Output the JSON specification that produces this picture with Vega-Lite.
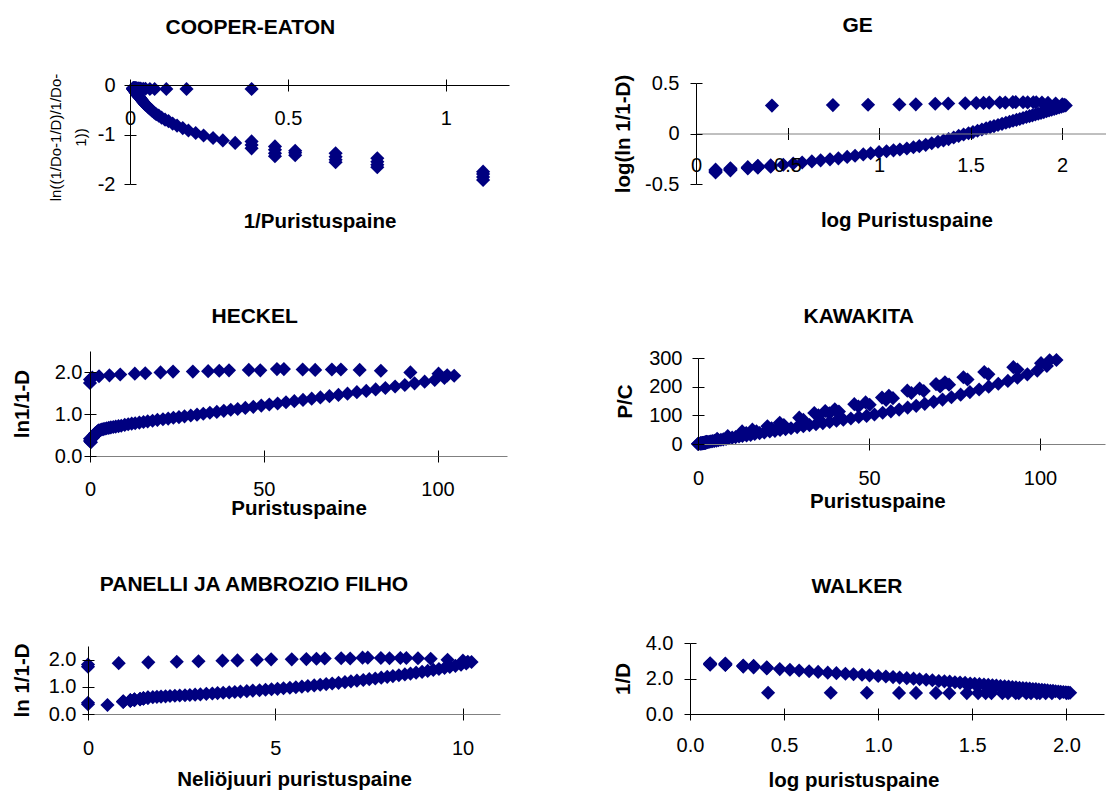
{
"$schema": "https://vega.github.io/schema/vega-lite/v6.json",
"background": "white",
"padding": 0,
"autosize": {"type": "pad"},
"config": {
 "view": {"stroke": null},
 "font": "Liberation Sans",
 "axis": {"grid": false, "labelFont": "Liberation Sans", "titleFont": "Liberation Sans", "labelFontSize": 20, "titleFontSize": 20.5, "titleFontWeight": "bold", "labelColor": "black", "titleColor": "black", "domainColor": "black", "tickColor": "black", "domainWidth": 1, "tickWidth": 1, "labelFlush": false, "labelOverlap": false, "labelBound": false},
 "title": {"font": "Liberation Sans", "fontSize": 21, "fontWeight": "bold", "color": "black"}
},
"datasets": {
 "cooper": [
  {"x":1.118,"y":-1.75},{"x":1.118,"y":-1.80},{"x":1.118,"y":-1.86},{"x":1.118,"y":-1.92},
  {"x":0.783,"y":-1.48},{"x":0.783,"y":-1.55},{"x":0.783,"y":-1.61},{"x":0.783,"y":-1.66},
  {"x":0.651,"y":-1.38},{"x":0.651,"y":-1.45},{"x":0.651,"y":-1.51},{"x":0.651,"y":-1.56},
  {"x":0.523,"y":-1.33},{"x":0.523,"y":-1.37},{"x":0.523,"y":-1.42},
  {"x":0.459,"y":-1.24},{"x":0.459,"y":-1.31},{"x":0.459,"y":-1.38},{"x":0.459,"y":-1.44},
  {"x":0.385,"y":-1.14},{"x":0.385,"y":-1.21},{"x":0.385,"y":-1.28},
  {"x":0.333,"y":-1.17},{"x":0.294,"y":-1.12},{"x":0.263,"y":-1.07},{"x":0.233,"y":-1.02},{"x":0.208,"y":-0.97},{"x":0.185,"y":-0.92},{"x":0.167,"y":-0.87},{"x":0.149,"y":-0.82},{"x":0.135,"y":-0.78},{"x":0.122,"y":-0.73},{"x":0.111,"y":-0.70},{"x":0.100,"y":-0.66},{"x":0.091,"y":-0.62},{"x":0.083,"y":-0.59},{"x":0.077,"y":-0.56},{"x":0.070,"y":-0.52},{"x":0.065,"y":-0.49},{"x":0.060,"y":-0.46},{"x":0.056,"y":-0.44},{"x":0.052,"y":-0.41},{"x":0.048,"y":-0.39},{"x":0.044,"y":-0.36},{"x":0.042,"y":-0.345},{"x":0.039,"y":-0.32},{"x":0.037,"y":-0.30},{"x":0.034,"y":-0.28},{"x":0.032,"y":-0.265},{"x":0.031,"y":-0.255},{"x":0.029,"y":-0.24},{"x":0.027,"y":-0.225},{"x":0.026,"y":-0.215},{"x":0.025,"y":-0.205},{"x":0.0235,"y":-0.195},{"x":0.0224,"y":-0.185},{"x":0.0213,"y":-0.175},{"x":0.0203,"y":-0.167},{"x":0.0194,"y":-0.158},{"x":0.0185,"y":-0.15},{"x":0.0177,"y":-0.142},{"x":0.0170,"y":-0.136},{"x":0.0163,"y":-0.13},{"x":0.0157,"y":-0.125},{"x":0.0151,"y":-0.12},{"x":0.0145,"y":-0.115},{"x":0.0140,"y":-0.11},{"x":0.0135,"y":-0.105},{"x":0.0130,"y":-0.10},{"x":0.0126,"y":-0.095},{"x":0.0122,"y":-0.09},{"x":0.0118,"y":-0.09},{"x":0.0114,"y":-0.085},{"x":0.0110,"y":-0.08},{"x":0.0107,"y":-0.08},{"x":0.0104,"y":-0.075},{"x":0.0101,"y":-0.07},{"x":0.0098,"y":-0.07},{"x":0.0095,"y":-0.065},
  {"x":0.385,"y":-0.08},{"x":0.179,"y":-0.08},{"x":0.115,"y":-0.08},{"x":0.078,"y":-0.08},{"x":0.063,"y":-0.08},{"x":0.049,"y":-0.075},{"x":0.042,"y":-0.075},{"x":0.034,"y":-0.07},{"x":0.029,"y":-0.07},{"x":0.027,"y":-0.07},{"x":0.025,"y":-0.07},{"x":0.022,"y":-0.07},{"x":0.020,"y":-0.065},{"x":0.0186,"y":-0.065},{"x":0.0179,"y":-0.065},{"x":0.0163,"y":-0.065},{"x":0.0154,"y":-0.065},{"x":0.0144,"y":-0.065},{"x":0.0139,"y":-0.065},{"x":0.0129,"y":-0.065},{"x":0.0119,"y":-0.065},{"x":0.0108,"y":-0.07},{"x":0.0100,"y":-0.07},{"x":0.0097,"y":-0.07}
 ],
 "ge": [
  {"x":0.107,"y":-0.385},{"x":0.107,"y":-0.375},{"x":0.107,"y":-0.365},{"x":0.107,"y":-0.358},
  {"x":0.188,"y":-0.365},{"x":0.188,"y":-0.358},{"x":0.188,"y":-0.351},{"x":0.188,"y":-0.345},
  {"x":0.283,"y":-0.345},{"x":0.283,"y":-0.339},{"x":0.283,"y":-0.333},
  {"x":0.338,"y":-0.338},{"x":0.338,"y":-0.332},{"x":0.338,"y":-0.326},{"x":0.338,"y":-0.32},
  {"x":0.408,"y":-0.328},{"x":0.408,"y":-0.322},{"x":0.408,"y":-0.316},
  {"x":0.477,"y":-0.309},{"x":0.531,"y":-0.297},{"x":0.58,"y":-0.287},{"x":0.633,"y":-0.276},{"x":0.681,"y":-0.266},{"x":0.732,"y":-0.256},{"x":0.778,"y":-0.246},{"x":0.826,"y":-0.232},{"x":0.869,"y":-0.22},{"x":0.914,"y":-0.207},{"x":0.954,"y":-0.196},{"x":1.0,"y":-0.185},{"x":1.041,"y":-0.176},{"x":1.079,"y":-0.167},{"x":1.114,"y":-0.158},{"x":1.152,"y":-0.148},{"x":1.188,"y":-0.136},{"x":1.22,"y":-0.125},{"x":1.255,"y":-0.112},{"x":1.288,"y":-0.097},{"x":1.322,"y":-0.082},{"x":1.352,"y":-0.069},{"x":1.38,"y":-0.055},{"x":1.408,"y":-0.04},{"x":1.435,"y":-0.024},{"x":1.462,"y":-0.01},{"x":1.489,"y":0.003},{"x":1.513,"y":0.014},{"x":1.538,"y":0.027},{"x":1.562,"y":0.04},{"x":1.585,"y":0.052},{"x":1.607,"y":0.063},{"x":1.628,"y":0.073},{"x":1.65,"y":0.084},{"x":1.672,"y":0.096},{"x":1.693,"y":0.106},{"x":1.713,"y":0.116},{"x":1.732,"y":0.126},{"x":1.751,"y":0.135},{"x":1.769,"y":0.144},{"x":1.787,"y":0.154},{"x":1.805,"y":0.163},{"x":1.822,"y":0.172},{"x":1.838,"y":0.18},{"x":1.854,"y":0.188},{"x":1.87,"y":0.196},{"x":1.885,"y":0.204},{"x":1.9,"y":0.212},{"x":1.915,"y":0.22},{"x":1.929,"y":0.228},{"x":1.943,"y":0.236},{"x":1.957,"y":0.244},{"x":1.97,"y":0.251},{"x":1.984,"y":0.259},{"x":1.997,"y":0.266},{"x":2.009,"y":0.272},{"x":2.02,"y":0.278},
  {"x":0.415,"y":0.276},{"x":0.748,"y":0.281},{"x":0.94,"y":0.285},{"x":1.111,"y":0.287},{"x":1.201,"y":0.289},{"x":1.307,"y":0.295},{"x":1.378,"y":0.297},{"x":1.471,"y":0.3},{"x":1.531,"y":0.302},{"x":1.571,"y":0.303},{"x":1.602,"y":0.305},{"x":1.66,"y":0.307},{"x":1.69,"y":0.306},{"x":1.731,"y":0.31},{"x":1.747,"y":0.31},{"x":1.787,"y":0.309},{"x":1.812,"y":0.308},{"x":1.843,"y":0.309},{"x":1.859,"y":0.309},{"x":1.89,"y":0.307},{"x":1.923,"y":0.303},{"x":1.965,"y":0.297},{"x":2.001,"y":0.29},{"x":2.012,"y":0.283}
 ],
 "heckel": [
  {"x":0,"y":0.36},{"x":0,"y":0.41},{"x":0.27,"y":0.33},{"x":0.885,"y":0.44},{"x":0.885,"y":0.45},{"x":0.885,"y":0.46},{"x":0.885,"y":0.47},{"x":1.28,"y":0.48},{"x":1.28,"y":0.49},{"x":1.28,"y":0.5},{"x":1.28,"y":0.51},{"x":1.54,"y":0.51},{"x":1.54,"y":0.52},{"x":1.54,"y":0.53},{"x":1.54,"y":0.54},{"x":1.92,"y":0.54},{"x":1.92,"y":0.55},{"x":1.92,"y":0.56},{"x":2.18,"y":0.56},{"x":2.18,"y":0.57},{"x":2.18,"y":0.58},{"x":2.18,"y":0.59},{"x":2.56,"y":0.59},{"x":2.56,"y":0.6},{"x":2.56,"y":0.61},
  {"x":3.0,"y":0.62},{"x":3.4,"y":0.63},{"x":3.8,"y":0.64},{"x":4.3,"y":0.65},{"x":4.8,"y":0.66},{"x":5.4,"y":0.67},{"x":6.0,"y":0.68},{"x":6.7,"y":0.69},{"x":7.4,"y":0.7},{"x":8.2,"y":0.71},{"x":9.0,"y":0.72},{"x":10,"y":0.74},{"x":11,"y":0.755},{"x":12,"y":0.77},{"x":13,"y":0.78},{"x":14.2,"y":0.795},{"x":15.4,"y":0.81},{"x":16.6,"y":0.825},{"x":18,"y":0.84},{"x":19.4,"y":0.86},{"x":21,"y":0.875},{"x":22.5,"y":0.89},{"x":24,"y":0.91},{"x":25.6,"y":0.925},{"x":27.2,"y":0.945},{"x":29,"y":0.965},{"x":30.8,"y":0.985},{"x":32.6,"y":1.005},{"x":34.5,"y":1.03},{"x":36.5,"y":1.05},{"x":38.5,"y":1.075},{"x":40.5,"y":1.1},{"x":42.5,"y":1.12},{"x":44.7,"y":1.145},{"x":47,"y":1.17},{"x":49.3,"y":1.2},{"x":51.6,"y":1.225},{"x":54,"y":1.25},{"x":56.4,"y":1.28},{"x":58.8,"y":1.305},{"x":61.3,"y":1.335},{"x":63.8,"y":1.365},{"x":66.3,"y":1.395},{"x":68.9,"y":1.425},{"x":71.5,"y":1.455},{"x":74.1,"y":1.485},{"x":76.8,"y":1.52},{"x":79.5,"y":1.55},{"x":82.2,"y":1.585},{"x":85,"y":1.62},{"x":87.8,"y":1.655},{"x":90.6,"y":1.69},{"x":93.4,"y":1.73},{"x":96.3,"y":1.77},{"x":99.2,"y":1.81},{"x":102,"y":1.86},{"x":104.8,"y":1.91},
  {"x":0,"y":1.74},{"x":0,"y":1.82},{"x":0.67,"y":1.87},{"x":2.6,"y":1.9},{"x":5.6,"y":1.92},{"x":8.7,"y":1.94},{"x":12.9,"y":1.96},{"x":15.9,"y":1.97},{"x":20.3,"y":1.99},{"x":23.9,"y":2.01},{"x":29.6,"y":2.01},{"x":34,"y":2.02},{"x":37.2,"y":2.03},{"x":40,"y":2.04},{"x":45.7,"y":2.05},{"x":49,"y":2.04},{"x":53.8,"y":2.07},{"x":55.8,"y":2.07},{"x":61.2,"y":2.06},{"x":64.8,"y":2.05},{"x":69.6,"y":2.06},{"x":72.2,"y":2.06},{"x":77.6,"y":2.05},{"x":83.7,"y":2.03},{"x":92.2,"y":1.99},{"x":100.3,"y":1.96},{"x":102.8,"y":1.92}
 ],
 "kawakita": [
  {"x":0,"y":0},{"x":0,"y":1},{"x":0.27,"y":1},{"x":0.885,"y":1.8},{"x":0.885,"y":2.0},{"x":0.885,"y":2.2},{"x":0.885,"y":2.4},{"x":1.28,"y":2.6},{"x":1.28,"y":2.8},{"x":1.28,"y":3.0},{"x":1.28,"y":3.2},{"x":1.54,"y":3.2},{"x":1.54,"y":3.4},{"x":1.54,"y":3.6},{"x":1.54,"y":3.8},{"x":1.92,"y":4.0},{"x":1.92,"y":4.3},{"x":1.92,"y":4.6},{"x":2.18,"y":4.6},{"x":2.18,"y":4.9},{"x":2.18,"y":5.2},{"x":2.18,"y":5.5},{"x":2.56,"y":5.6},{"x":2.56,"y":6.0},{"x":2.56,"y":6.4},
  {"x":3.0,"y":7},{"x":3.4,"y":8},{"x":3.8,"y":9},{"x":4.3,"y":10},{"x":4.8,"y":11},{"x":5.4,"y":12},{"x":6.0,"y":13},{"x":6.7,"y":15},{"x":7.4,"y":16},{"x":8.2,"y":18},{"x":9.0,"y":20},{"x":10,"y":22},{"x":11,"y":24},{"x":12,"y":26},{"x":13,"y":28},{"x":14.2,"y":30},{"x":15.4,"y":32},{"x":16.6,"y":35},{"x":18,"y":38},{"x":19.4,"y":40},{"x":21,"y":44},{"x":22.5,"y":46},{"x":24,"y":49},{"x":25.6,"y":52},{"x":27.2,"y":55},{"x":29,"y":59},{"x":30.8,"y":62},{"x":32.6,"y":66},{"x":34.5,"y":69},{"x":36.5,"y":73},{"x":38.5,"y":77},{"x":40.5,"y":81},{"x":42.5,"y":85},{"x":44.7,"y":89},{"x":47,"y":94},{"x":49.3,"y":98},{"x":51.6,"y":103},{"x":54,"y":109},{"x":56.4,"y":114},{"x":58.8,"y":120},{"x":61.3,"y":127},{"x":63.8,"y":133},{"x":66.3,"y":140},{"x":68.9,"y":147},{"x":71.5,"y":155},{"x":74.1,"y":163},{"x":76.8,"y":172},{"x":79.5,"y":181},{"x":82.2,"y":190},{"x":85,"y":200},{"x":87.8,"y":210},{"x":90.6,"y":220},{"x":93.4,"y":231},{"x":96.3,"y":243},{"x":99.2,"y":256},{"x":102,"y":272},{"x":104.8,"y":293},
  {"x":0.67,"y":2},{"x":2.6,"y":8},{"x":5.6,"y":18},{"x":8.7,"y":28},{"x":12.9,"y":44},{"x":14.1,"y":38},{"x":15.9,"y":50},{"x":17.1,"y":44},{"x":20.3,"y":62},{"x":21.5,"y":55},{"x":23.9,"y":74},{"x":25.1,"y":66},{"x":29.6,"y":92},{"x":30.8,"y":84},{"x":34,"y":108},{"x":35.2,"y":100},{"x":37.2,"y":115},{"x":38.4,"y":107},{"x":40,"y":121},{"x":41.2,"y":113},{"x":45.7,"y":139},{"x":46.9,"y":131},{"x":49,"y":145},{"x":50.2,"y":137},{"x":53.8,"y":162},{"x":55,"y":154},{"x":55.8,"y":168},{"x":57,"y":160},{"x":61.2,"y":186},{"x":62.4,"y":178},{"x":64.8,"y":193},{"x":66,"y":185},{"x":69.6,"y":209},{"x":70.8,"y":201},{"x":72.2,"y":215},{"x":73.4,"y":207},{"x":77.6,"y":233},{"x":78.8,"y":225},{"x":83.7,"y":251},{"x":84.9,"y":243},{"x":92.2,"y":268},{"x":93.4,"y":260},{"x":100.3,"y":282},{"x":102.8,"y":292}
 ],
 "panelli": [
  {"x":0,"y":0.36},{"x":0,"y":0.41},{"x":0.52,"y":0.33},{"x":0.94,"y":0.44},{"x":0.94,"y":0.45},{"x":0.94,"y":0.46},{"x":0.94,"y":0.47},{"x":1.13,"y":0.48},{"x":1.13,"y":0.49},{"x":1.13,"y":0.5},{"x":1.13,"y":0.51},{"x":1.24,"y":0.51},{"x":1.24,"y":0.52},{"x":1.24,"y":0.53},{"x":1.24,"y":0.54},{"x":1.39,"y":0.54},{"x":1.39,"y":0.55},{"x":1.39,"y":0.56},{"x":1.48,"y":0.56},{"x":1.48,"y":0.57},{"x":1.48,"y":0.58},{"x":1.48,"y":0.59},{"x":1.6,"y":0.59},{"x":1.6,"y":0.6},{"x":1.6,"y":0.61},
  {"x":1.73,"y":0.62},{"x":1.84,"y":0.63},{"x":1.95,"y":0.64},{"x":2.07,"y":0.65},{"x":2.19,"y":0.66},{"x":2.32,"y":0.67},{"x":2.45,"y":0.68},{"x":2.59,"y":0.69},{"x":2.72,"y":0.7},{"x":2.86,"y":0.71},{"x":3.0,"y":0.72},{"x":3.16,"y":0.74},{"x":3.32,"y":0.755},{"x":3.46,"y":0.77},{"x":3.61,"y":0.78},{"x":3.77,"y":0.795},{"x":3.92,"y":0.81},{"x":4.07,"y":0.825},{"x":4.24,"y":0.84},{"x":4.4,"y":0.86},{"x":4.58,"y":0.875},{"x":4.74,"y":0.89},{"x":4.9,"y":0.91},{"x":5.06,"y":0.925},{"x":5.22,"y":0.945},{"x":5.39,"y":0.965},{"x":5.55,"y":0.985},{"x":5.71,"y":1.005},{"x":5.87,"y":1.03},{"x":6.04,"y":1.05},{"x":6.2,"y":1.075},{"x":6.36,"y":1.1},{"x":6.52,"y":1.12},{"x":6.69,"y":1.145},{"x":6.86,"y":1.17},{"x":7.02,"y":1.2},{"x":7.18,"y":1.225},{"x":7.35,"y":1.25},{"x":7.51,"y":1.28},{"x":7.67,"y":1.305},{"x":7.83,"y":1.335},{"x":7.99,"y":1.365},{"x":8.14,"y":1.395},{"x":8.3,"y":1.425},{"x":8.46,"y":1.455},{"x":8.61,"y":1.485},{"x":8.76,"y":1.52},{"x":8.92,"y":1.55},{"x":9.07,"y":1.585},{"x":9.22,"y":1.62},{"x":9.37,"y":1.655},{"x":9.52,"y":1.69},{"x":9.66,"y":1.73},{"x":9.81,"y":1.77},{"x":9.96,"y":1.81},{"x":10.1,"y":1.86},{"x":10.24,"y":1.91},
  {"x":0,"y":1.74},{"x":0,"y":1.82},{"x":0.82,"y":1.87},{"x":1.61,"y":1.9},{"x":2.37,"y":1.92},{"x":2.95,"y":1.94},{"x":3.59,"y":1.96},{"x":3.99,"y":1.97},{"x":4.51,"y":1.99},{"x":4.89,"y":2.01},{"x":5.44,"y":2.01},{"x":5.83,"y":2.02},{"x":6.1,"y":2.03},{"x":6.32,"y":2.04},{"x":6.76,"y":2.05},{"x":7.0,"y":2.04},{"x":7.33,"y":2.07},{"x":7.47,"y":2.07},{"x":7.82,"y":2.06},{"x":8.05,"y":2.05},{"x":8.34,"y":2.06},{"x":8.5,"y":2.06},{"x":8.81,"y":2.05},{"x":9.15,"y":2.03},{"x":9.6,"y":1.99},{"x":10.01,"y":1.96},{"x":10.14,"y":1.92}
 ],
 "walker": [
  {"x":0.107,"y":2.86},{"x":0.107,"y":2.83},{"x":0.107,"y":2.8},{"x":0.107,"y":2.78},
  {"x":0.188,"y":2.84},{"x":0.188,"y":2.81},{"x":0.188,"y":2.78},{"x":0.188,"y":2.76},
  {"x":0.283,"y":2.73},{"x":0.283,"y":2.7},{"x":0.283,"y":2.67},
  {"x":0.338,"y":2.71},{"x":0.338,"y":2.68},{"x":0.338,"y":2.65},{"x":0.338,"y":2.63},
  {"x":0.408,"y":2.63},{"x":0.408,"y":2.6},{"x":0.408,"y":2.57},
  {"x":0.477,"y":2.53},{"x":0.531,"y":2.49},{"x":0.58,"y":2.45},{"x":0.633,"y":2.41},{"x":0.681,"y":2.37},{"x":0.732,"y":2.33},{"x":0.778,"y":2.3},{"x":0.826,"y":2.27},{"x":0.869,"y":2.24},{"x":0.914,"y":2.21},{"x":0.954,"y":2.18},{"x":1.0,"y":2.14},{"x":1.041,"y":2.11},{"x":1.079,"y":2.08},{"x":1.114,"y":2.05},{"x":1.152,"y":2.02},{"x":1.188,"y":1.99},{"x":1.22,"y":1.96},{"x":1.255,"y":1.93},{"x":1.288,"y":1.9},{"x":1.322,"y":1.86},{"x":1.352,"y":1.84},{"x":1.38,"y":1.82},{"x":1.408,"y":1.79},{"x":1.435,"y":1.77},{"x":1.462,"y":1.75},{"x":1.489,"y":1.72},{"x":1.513,"y":1.7},{"x":1.538,"y":1.68},{"x":1.562,"y":1.66},{"x":1.585,"y":1.64},{"x":1.607,"y":1.62},{"x":1.628,"y":1.6},{"x":1.65,"y":1.58},{"x":1.672,"y":1.56},{"x":1.693,"y":1.54},{"x":1.713,"y":1.52},{"x":1.732,"y":1.5},{"x":1.751,"y":1.48},{"x":1.769,"y":1.46},{"x":1.787,"y":1.45},{"x":1.805,"y":1.43},{"x":1.822,"y":1.41},{"x":1.838,"y":1.4},{"x":1.854,"y":1.38},{"x":1.87,"y":1.36},{"x":1.885,"y":1.35},{"x":1.9,"y":1.33},{"x":1.915,"y":1.31},{"x":1.929,"y":1.3},{"x":1.943,"y":1.28},{"x":1.957,"y":1.27},{"x":1.97,"y":1.25},{"x":1.984,"y":1.24},{"x":1.997,"y":1.22},{"x":2.009,"y":1.21},{"x":2.02,"y":1.2},
  {"x":0.415,"y":1.2},{"x":0.748,"y":1.2},{"x":0.94,"y":1.2},{"x":1.111,"y":1.19},{"x":1.201,"y":1.19},{"x":1.307,"y":1.19},{"x":1.378,"y":1.18},{"x":1.471,"y":1.18},{"x":1.531,"y":1.18},{"x":1.571,"y":1.18},{"x":1.602,"y":1.18},{"x":1.66,"y":1.17},{"x":1.69,"y":1.18},{"x":1.731,"y":1.17},{"x":1.747,"y":1.17},{"x":1.787,"y":1.17},{"x":1.812,"y":1.17},{"x":1.843,"y":1.17},{"x":1.859,"y":1.17},{"x":1.89,"y":1.17},{"x":1.923,"y":1.17},{"x":1.965,"y":1.18},{"x":2.001,"y":1.18},{"x":2.012,"y":1.19}
 ]
},
"columns": 4,
"align": "each",
"bounds": "flush",
"spacing": 0,
"concat": [
 {"width": 88, "height": 1, "data": {"values": []}, "mark": "point", "encoding": {}},
 {"width": 1, "height": 83, "data": {"values": []}, "mark": "point", "encoding": {}},
 {"width": 181, "height": 1, "data": {"values": []}, "mark": "point", "encoding": {}},
 {"width": 1, "height": 1, "data": {"values": []}, "mark": "point", "encoding": {}},

 {"width": 1, "height": 1, "data": {"values": []}, "mark": "point", "encoding": {}},
 {"width": 421, "height": 101, "data": {"name": "cooper"},
  "title": {"text": "COOPER-EATON", "anchor": "middle", "frame": "group", "dx": -48.1, "offset": 24, "baseline": "middle"},
  "layer": [
   {"mark": {"type": "point", "shape": "diamond", "filled": true, "color": "#000080", "opacity": 1, "size": 200},
    "encoding": {
     "x": {"field": "x", "type": "quantitative", "scale": {"domain": [0, 1.2], "range": [42, 421], "nice": false, "zero": false},
           "axis": {"orient": "bottom", "offset": -99, "values": [0, 0.5, 1], "labelExpr": "'' + datum.value", "tickSize": 6, "labelPadding": 17.5, "domainColor": "black", "title": "1/Puristuspaine", "titleY": 136.7, "titleBaseline": "middle", "zindex": 1}},
     "y": {"field": "y", "type": "quantitative", "scale": {"domain": [-2, 0], "range": [101, 2], "nice": false, "zero": false},
           "axis": {"orient": "left", "offset": -42, "values": [-2, -1, 0], "labelExpr": "'' + datum.value", "tickSize": 6, "labelPadding": 9, "title": ["ln((1/Do-1/D)/1/Do-", "1))"], "titleFontSize": 15, "titleFontWeight": "normal", "titleLineHeight": 24.7, "titleX": -74.3, "titleY": 54, "titleBaseline": "middle", "zindex": 1}}
    }},
   {"transform": [{"filter": "false"}], "mark": "point",
    "encoding": {
     "x": {"field": "x", "type": "quantitative", "scale": {"domain": [0, 1.2], "range": [42, 421], "nice": false, "zero": false},
           "axis": {"orient": "top", "offset": -2, "values": [0, 0.5, 1], "labels": false, "domain": false, "tickSize": 6, "title": null, "zindex": 1}},
     "y": {"field": "y", "type": "quantitative", "scale": {"domain": [-2, 0], "range": [101, 2], "nice": false, "zero": false},
           "axis": {"orient": "right", "offset": -379, "values": [-2, -1, 0], "labels": false, "domain": false, "tickSize": 6, "title": null, "zindex": 1}}
    }}
  ],
  "resolve": {"axis": {"x": "independent", "y": "independent"}}
 },
 {"width": 1, "height": 1, "data": {"values": []}, "mark": "point", "encoding": {}},
 {"width": 416, "height": 101, "data": {"name": "ge"},
  "title": {"text": "GE", "anchor": "middle", "frame": "group", "dx": -40.4, "offset": 26, "baseline": "middle"},
  "layer": [
   {"mark": {"type": "point", "shape": "diamond", "filled": true, "color": "#000080", "opacity": 1, "size": 200},
    "encoding": {
     "x": {"field": "x", "type": "quantitative", "scale": {"domain": [0, 2.24], "range": [6, 416], "nice": false, "zero": false},
           "axis": {"orient": "bottom", "offset": -50.5, "values": [0, 0.5, 1, 1.5, 2], "labelExpr": "'' + datum.value", "tickSize": 6, "labelPadding": 15.5, "domainColor": "#808080", "title": "log Puristuspaine", "titleY": 87.2, "titleX": 216.4, "titleBaseline": "middle", "zindex": 1}},
     "y": {"field": "y", "type": "quantitative", "scale": {"domain": [-0.5, 0.5], "range": [101, 0], "nice": false, "zero": false},
           "axis": {"orient": "left", "offset": -6, "values": [-0.5, 0, 0.5], "labelExpr": "'' + datum.value", "tickSize": 6, "labelPadding": 11, "title": "log(ln 1/1-D)", "titleX": -72.3, "titleBaseline": "middle", "zindex": 1}}
    }},
   {"transform": [{"filter": "false"}], "mark": "point",
    "encoding": {
     "x": {"field": "x", "type": "quantitative", "scale": {"domain": [0, 2.24], "range": [6, 416], "nice": false, "zero": false},
           "axis": {"orient": "top", "offset": -50.5, "values": [0, 0.5, 1, 1.5, 2], "labels": false, "domain": false, "tickSize": 6, "title": null, "zindex": 1}},
     "y": {"field": "y", "type": "quantitative", "scale": {"domain": [-0.5, 0.5], "range": [101, 0], "nice": false, "zero": false},
           "axis": {"orient": "right", "offset": -410, "values": [-0.5, 0, 0.5], "labels": false, "domain": false, "tickSize": 6, "title": null, "zindex": 1}}
    }}
  ],
  "resolve": {"axis": {"x": "independent", "y": "independent"}}
 },

 {"width": 1, "height": 167, "data": {"values": []}, "mark": "point", "encoding": {}},
 {"width": 1, "height": 1, "data": {"values": []}, "mark": "point", "encoding": {}},
 {"width": 1, "height": 1, "data": {"values": []}, "mark": "point", "encoding": {}},
 {"width": 1, "height": 1, "data": {"values": []}, "mark": "point", "encoding": {}},

 {"width": 1, "height": 1, "data": {"values": []}, "mark": "point", "encoding": {}},
 {"width": 419, "height": 105, "data": {"name": "heckel"},
  "title": {"text": "HECKEL", "anchor": "middle", "frame": "group", "dx": -42.8, "offset": 13, "baseline": "middle"},
  "layer": [
   {"mark": {"type": "point", "shape": "diamond", "filled": true, "color": "#000080", "opacity": 1, "size": 200},
    "encoding": {
     "x": {"field": "x", "type": "quantitative", "scale": {"domain": [0, 120], "range": [2, 419], "nice": false, "zero": false},
           "axis": {"orient": "bottom", "offset": 0, "values": [0, 50, 100], "format": "d", "tickSize": 6, "labelPadding": 17, "domainColor": "#808080", "title": "Puristuspaine", "titleY": 52.5, "titleBaseline": "middle", "zindex": 1}},
     "y": {"field": "y", "type": "quantitative", "scale": {"domain": [0, 2.5], "range": [105, 0], "nice": false, "zero": false},
           "axis": {"orient": "left", "offset": -2, "values": [0, 1, 2], "format": ".1f", "tickSize": 6, "labelPadding": 2, "title": "ln1/1-D", "titleX": -67.1, "titleBaseline": "middle", "zindex": 1}}
    }},
   {"transform": [{"filter": "false"}], "mark": "point",
    "encoding": {
     "x": {"field": "x", "type": "quantitative", "scale": {"domain": [0, 120], "range": [2, 419], "nice": false, "zero": false},
           "axis": {"orient": "top", "offset": -105, "values": [0, 50, 100], "labels": false, "domain": false, "tickSize": 6, "title": null, "zindex": 1}},
     "y": {"field": "y", "type": "quantitative", "scale": {"domain": [0, 2.5], "range": [105, 0], "nice": false, "zero": false},
           "axis": {"orient": "right", "offset": -417, "values": [0, 1, 2], "labels": false, "domain": false, "tickSize": 6, "title": null, "zindex": 1}}
    }}
  ],
  "resolve": {"axis": {"x": "independent", "y": "independent"}}
 },
 {"width": 1, "height": 1, "data": {"values": []}, "mark": "point", "encoding": {}},
 {"width": 415, "height": 93, "data": {"name": "kawakita"},
  "title": {"text": "KAWAKITA", "anchor": "middle", "frame": "group", "dx": -38.8, "offset": 10, "baseline": "middle"},
  "layer": [
   {"mark": {"type": "point", "shape": "diamond", "filled": true, "color": "#000080", "opacity": 1, "size": 200},
    "encoding": {
     "x": {"field": "x", "type": "quantitative", "scale": {"domain": [0, 119], "range": [8, 415], "nice": false, "zero": false},
           "axis": {"orient": "bottom", "offset": 0, "values": [0, 50, 100], "format": "d", "tickSize": 6, "labelPadding": 18.3, "domainColor": "#808080", "title": "Puristuspaine", "titleY": 57, "titleX": 187.4, "titleBaseline": "middle", "zindex": 1}},
     "y": {"field": "y", "type": "quantitative", "scale": {"domain": [0, 300], "range": [93, 7], "nice": false, "zero": false},
           "axis": {"orient": "left", "offset": -8, "values": [0, 100, 200, 300], "format": "d", "tickSize": 6, "labelPadding": 10, "title": "P/C", "titleX": -72.6, "titleBaseline": "middle", "zindex": 1}}
    }},
   {"transform": [{"filter": "false"}], "mark": "point",
    "encoding": {
     "x": {"field": "x", "type": "quantitative", "scale": {"domain": [0, 119], "range": [8, 415], "nice": false, "zero": false},
           "axis": {"orient": "top", "offset": -93, "values": [0, 50, 100], "labels": false, "domain": false, "tickSize": 6, "title": null, "zindex": 1}},
     "y": {"field": "y", "type": "quantitative", "scale": {"domain": [0, 300], "range": [93, 7], "nice": false, "zero": false},
           "axis": {"orient": "right", "offset": -407, "values": [0, 100, 200, 300], "labels": false, "domain": false, "tickSize": 6, "title": null, "zindex": 1}}
    }}
  ],
  "resolve": {"axis": {"x": "independent", "y": "independent"}}
 },

 {"width": 1, "height": 187, "data": {"values": []}, "mark": "point", "encoding": {}},
 {"width": 1, "height": 1, "data": {"values": []}, "mark": "point", "encoding": {}},
 {"width": 1, "height": 1, "data": {"values": []}, "mark": "point", "encoding": {}},
 {"width": 1, "height": 1, "data": {"values": []}, "mark": "point", "encoding": {}},

 {"width": 1, "height": 1, "data": {"values": []}, "mark": "point", "encoding": {}},
 {"width": 412, "height": 71, "data": {"name": "panelli"},
  "title": {"text": "PANELLI JA AMBROZIO FILHO", "anchor": "middle", "frame": "group", "dx": -40, "offset": 37, "baseline": "middle"},
  "layer": [
   {"mark": {"type": "point", "shape": "diamond", "filled": true, "color": "#000080", "opacity": 1, "size": 200},
    "encoding": {
     "x": {"field": "x", "type": "quantitative", "scale": {"domain": [0, 11], "range": [0, 412], "nice": false, "zero": false},
           "axis": {"orient": "bottom", "offset": 0, "values": [0, 5, 10], "format": "d", "tickSize": 6, "labelPadding": 18.3, "domainColor": "#808080", "title": "Neliöjuuri puristuspaine", "titleY": 65.5, "titleBaseline": "middle", "zindex": 1}},
     "y": {"field": "y", "type": "quantitative", "scale": {"domain": [0, 2.5], "range": [71, 3], "nice": false, "zero": false},
           "axis": {"orient": "left", "offset": 0, "values": [0, 1, 2], "format": ".1f", "tickSize": 6, "labelPadding": 6, "title": "ln 1/1-D", "titleX": -65.1, "titleBaseline": "middle", "zindex": 1}}
    }},
   {"transform": [{"filter": "false"}], "mark": "point",
    "encoding": {
     "x": {"field": "x", "type": "quantitative", "scale": {"domain": [0, 11], "range": [0, 412], "nice": false, "zero": false},
           "axis": {"orient": "top", "offset": -71, "values": [0, 5, 10], "labels": false, "domain": false, "tickSize": 6, "title": null, "zindex": 1}},
     "y": {"field": "y", "type": "quantitative", "scale": {"domain": [0, 2.5], "range": [71, 3], "nice": false, "zero": false},
           "axis": {"orient": "right", "offset": -412, "values": [0, 1, 2], "labels": false, "domain": false, "tickSize": 6, "title": null, "zindex": 1}}
    }}
  ],
  "resolve": {"axis": {"x": "independent", "y": "independent"}}
 },
 {"width": 1, "height": 1, "data": {"values": []}, "mark": "point", "encoding": {}},
 {"width": 414, "height": 71, "data": {"name": "walker"},
  "title": {"text": "WALKER", "anchor": "middle", "frame": "group", "dx": -40.1, "offset": 25, "baseline": "middle"},
  "layer": [
   {"mark": {"type": "point", "shape": "diamond", "filled": true, "color": "#000080", "opacity": 1, "size": 200},
    "encoding": {
     "x": {"field": "x", "type": "quantitative", "scale": {"domain": [0, 2.2], "range": [0, 414], "nice": false, "zero": false},
           "axis": {"orient": "bottom", "offset": 0, "values": [0, 0.5, 1, 1.5, 2], "format": ".1f", "tickSize": 6, "labelPadding": 15.6, "domainColor": "black", "title": "log puristuspaine", "titleY": 66.5, "titleX": 163.4, "titleBaseline": "middle", "zindex": 1}},
     "y": {"field": "y", "type": "quantitative", "scale": {"domain": [0, 4], "range": [71, 0], "nice": false, "zero": false},
           "axis": {"orient": "left", "offset": 0, "values": [0, 2, 4], "format": ".1f", "tickSize": 6, "labelPadding": 11, "title": "1/D", "titleX": -66.3, "titleBaseline": "middle", "zindex": 1}}
    }},
   {"transform": [{"filter": "false"}], "mark": "point",
    "encoding": {
     "x": {"field": "x", "type": "quantitative", "scale": {"domain": [0, 2.2], "range": [0, 414], "nice": false, "zero": false},
           "axis": {"orient": "top", "offset": -71, "values": [0, 0.5, 1, 1.5, 2], "labels": false, "domain": false, "tickSize": 6, "title": null, "zindex": 1}},
     "y": {"field": "y", "type": "quantitative", "scale": {"domain": [0, 4], "range": [71, 0], "nice": false, "zero": false},
           "axis": {"orient": "right", "offset": -414, "values": [0, 2, 4], "labels": false, "domain": false, "tickSize": 6, "title": null, "zindex": 1}}
    }}
  ],
  "resolve": {"axis": {"x": "independent", "y": "independent"}}
 }
]
}
